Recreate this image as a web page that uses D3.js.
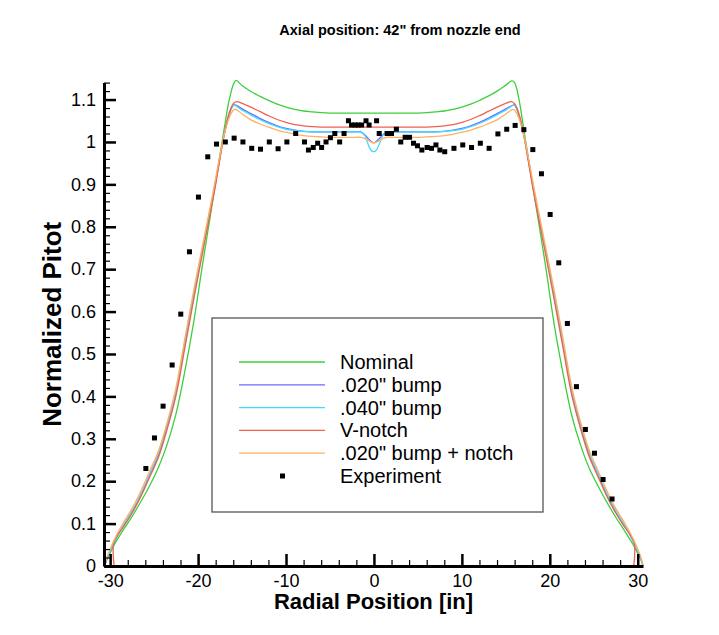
<!DOCTYPE html>
<html>
<head>
<meta charset="utf-8">
<script src="https://cdn.jsdelivr.net/npm/d3@7"></script>
<style>
body { margin: 0; background: #fff; }
svg text { font-family: "Liberation Sans", Arial, sans-serif; fill: #000; }
.tick text { font-size: 18px; }
.major .domain { stroke: #000; stroke-width: 3; }
.major .tick line { stroke: #000; stroke-width: 2.5; }
.minor .domain { display: none; }
.minor .tick line { stroke: #000; stroke-width: 1.2; }
.curve { fill: none; stroke-width: 1.3; }
</style>
</head>
<body>
<div id="chart"></div>
<script>
const width = 719, height = 635;
const plot = { left: 104, right: 643, top: 82.6, bottom: 566 };

// ticks
const xTicks = [-30, -20, -10, 0, 10, 20, 30];
const xTickLabels = ['-30', '-20', '-10', '0', '10', '20', '30'];
const yTicks = [0, 0.1, 0.2, 0.3, 0.4, 0.5, 0.6, 0.7, 0.8, 0.9, 1, 1.1];
const yTickLabels = ['0', '0.1', '0.2', '0.3', '0.4', '0.5', '0.6', '0.7', '0.8', '0.9', '1', '1.1'];

const seriesNames = ['Nominal', '.020" bump', '.040" bump', 'V-notch', '.020" bump + notch'];
const seriesColors = ['#3ccf3c', '#6a6aff', '#40dcff', '#f06050', '#ffb060'];

// radial stations shared by the computed profiles
const profileX = [-30.65, -30.3, -29.9, -29.4, -28.5, -27.5, -26.5, -25.5, -24.5, -23.5,
  -22.5, -21.5, -20.5, -19.5, -18.5, -18.0, -17.5, -17.0, -16.5, -16.0,
  -15.7, -15.0, -14, -13, -12, -11, -10, -9, -8, -7,
  -6, -5, -4, -3, -2, -1.5, -1, -0.75, -0.5, -0.25,
  0,
  0.25, 0.5, 0.75, 1, 1.5, 2, 3, 4, 5, 6,
  7, 8, 9, 10, 11, 12, 13, 14, 15, 15.7,
  16.0, 16.5, 17.0, 17.5, 18.0, 18.5, 19.5, 20.5, 21.5, 22.5,
  23.5, 24.5, 25.5, 26.5, 27.5, 28.5, 29.4, 29.9, 30.3, 30.6];

const nominalY = [0, 0.018, 0.035, 0.055, 0.085, 0.117, 0.152, 0.19, 0.233, 0.288,
  0.36, 0.46, 0.575, 0.71, 0.84, 0.905, 0.97, 1.035, 1.095, 1.135,
  1.145, 1.133, 1.119, 1.108, 1.098, 1.089, 1.082, 1.077, 1.073, 1.071,
  1.069, 1.068, 1.068, 1.068, 1.068, 1.068, 1.068, 1.068, 1.068, 1.068,
  1.068,
  1.068, 1.068, 1.068, 1.068, 1.068, 1.068, 1.068, 1.068, 1.068, 1.069,
  1.071, 1.073, 1.077, 1.082, 1.089, 1.098, 1.108, 1.12, 1.134, 1.144,
  1.14, 1.10, 1.035, 0.97, 0.905, 0.84, 0.71, 0.57, 0.455, 0.355,
  0.285, 0.23, 0.188, 0.15, 0.115, 0.083, 0.053, 0.034, 0.018, 0];

const bump020Y = [0, 0.02, 0.04, 0.062, 0.095, 0.128, 0.168, 0.215, 0.262, 0.33,
  0.41, 0.525, 0.637, 0.745, 0.85, 0.905, 0.965, 1.02, 1.062, 1.086,
  1.087, 1.078, 1.067, 1.056, 1.046, 1.038, 1.032, 1.028, 1.025, 1.024,
  1.024, 1.024, 1.024, 1.024, 1.024, 1.024, 1.016, 1.01, 1.005, 1.0,
  0.998,
  1.001, 1.006, 1.011, 1.017, 1.024, 1.024, 1.024, 1.024, 1.024, 1.024,
  1.024, 1.025, 1.028, 1.032, 1.038, 1.046, 1.056, 1.067, 1.078, 1.086,
  1.087, 1.062, 1.02, 0.965, 0.905, 0.85, 0.745, 0.637, 0.525, 0.41,
  0.33, 0.262, 0.215, 0.168, 0.128, 0.095, 0.062, 0.04, 0.02, 0];

const bump040Y = [0, 0.021, 0.041, 0.063, 0.096, 0.13, 0.17, 0.217, 0.265, 0.333,
  0.413, 0.528, 0.64, 0.748, 0.853, 0.908, 0.967, 1.022, 1.063, 1.087,
  1.085, 1.075, 1.064, 1.053, 1.044, 1.036, 1.03, 1.027, 1.025, 1.024,
  1.024, 1.024, 1.024, 1.024, 1.024, 1.023, 1.014, 1.0, 0.986, 0.979,
  0.977,
  0.98, 0.99, 1.003, 1.015, 1.023, 1.024, 1.024, 1.024, 1.024, 1.024,
  1.024, 1.025, 1.027, 1.03, 1.036, 1.044, 1.053, 1.064, 1.075, 1.085,
  1.087, 1.063, 1.022, 0.967, 0.908, 0.853, 0.748, 0.64, 0.528, 0.413,
  0.333, 0.265, 0.217, 0.17, 0.13, 0.096, 0.063, 0.041, 0.021, 0];

const bumpNotchY = [0, 0.024, 0.045, 0.068, 0.102, 0.136, 0.177, 0.224, 0.272, 0.34,
  0.422, 0.537, 0.65, 0.755, 0.86, 0.915, 0.97, 1.02, 1.055, 1.075,
  1.077, 1.066, 1.052, 1.043, 1.035, 1.028, 1.023, 1.018, 1.015, 1.013,
  1.012, 1.011, 1.011, 1.011, 1.011, 1.011, 1.008, 1.005, 1.002, 0.999,
  0.998,
  0.999, 1.002, 1.005, 1.008, 1.011, 1.011, 1.011, 1.011, 1.011, 1.012,
  1.013, 1.015, 1.018, 1.023, 1.028, 1.035, 1.043, 1.052, 1.066, 1.076,
  1.075, 1.055, 1.02, 0.97, 0.915, 0.86, 0.755, 0.65, 0.537, 0.422,
  0.34, 0.272, 0.224, 0.177, 0.136, 0.102, 0.068, 0.045, 0.024, 0];

// V-notch profile stops short of the wall
const vNotchX = [-29.55, -29.55, -28.5, -27.5, -26.5, -25.5, -24.5, -23.5, -22.5, -21.5,
  -20.5, -19.5, -18.5, -18.0, -17.5, -17.0, -16.5, -16.0, -15.6, -15.0,
  -14, -13, -12, -11, -10, -9, -8, -7, -6, -4, -2, 0, 2, 4, 6,
  7, 8, 9, 10, 11, 12, 13, 14, 15, 15.6, 16.0, 16.5, 17.0, 17.5, 18.0,
  18.5, 19.5, 20.5, 21.5, 22.5, 23.5, 24.5, 25.5, 26.5, 27.5, 28.5, 29.55, 29.55];
const vNotchY = [0, 0.058, 0.092, 0.125, 0.164, 0.21, 0.257, 0.324, 0.403, 0.515,
  0.628, 0.738, 0.845, 0.9, 0.962, 1.02, 1.066, 1.09, 1.095, 1.091,
  1.082, 1.072, 1.062, 1.053, 1.046, 1.041, 1.038, 1.036, 1.035, 1.035, 1.035, 1.035, 1.035, 1.035, 1.035,
  1.036, 1.038, 1.041, 1.046, 1.053, 1.062, 1.072, 1.082, 1.091, 1.095, 1.09, 1.066, 1.02, 0.962, 0.9,
  0.845, 0.738, 0.628, 0.515, 0.403, 0.324, 0.257, 0.21, 0.164, 0.125, 0.092, 0.058, 0];

// measured pitot rake
const expX = [-25.94, -24.96, -23.98, -22.95, -21.97, -20.98, -19.96, -18.9, -17.9, -16.9,
  -15.9, -14.9, -13.9, -12.9, -11.9, -10.9, -9.9, -8.9, -7.9, -7.45,
  -6.9, -6.4, -5.95, -5.45, -4.95, -4.45, -3.9, -3.4, -2.9, -2.55,
  -2.15, -1.8, -1.4, -0.9, -0.55, 0.3, 0.6, 1.5, 2.0, 2.55,
  3.05, 3.55, 4.05, 4.5, 4.95, 5.45, 6.05, 6.55, 7.05, 7.5,
  8.05, 9.1, 10.1, 11.1, 12.1, 13.1, 14.1, 15.1, 16.06, 17.05,
  18.07, 19.05, 20.04, 21.02, 22.0, 23.03, 24.05, 25.08, 26.06, 27.08];
const expY = [0.23, 0.302, 0.377, 0.474, 0.594, 0.741, 0.87, 0.965, 0.995, 1.0,
  1.009, 1.0, 0.985, 0.983, 1.0, 0.984, 1.0, 1.02, 1.0, 0.981,
  0.987, 0.997, 0.987, 1.0, 1.01, 1.02, 1.0, 1.02, 1.05, 1.04,
  1.04, 1.04, 1.04, 1.05, 1.04, 1.05, 1.02, 1.02, 1.02, 1.03,
  1.0, 1.011, 1.011, 0.997, 0.991, 0.981, 0.987, 0.985, 0.993, 0.981,
  0.977, 0.985, 0.993, 0.987, 0.997, 0.985, 1.019, 1.03, 1.039, 1.029,
  0.982, 0.925, 0.829, 0.715, 0.572, 0.423, 0.322, 0.266, 0.204, 0.158];

const xScale = d3.scaleLinear().domain([-30.7, 30.6]).range([plot.left, plot.right]);
const yScale = d3.scaleLinear().domain([0, 1.14]).range([plot.bottom, plot.top]);

const xMinor = d3.range(-30, 31, 2).filter(v => v % 10 !== 0);
const yMinor = d3.range(1, 58).map(v => v / 50).filter(v => Math.round(v * 50) % 5 !== 0);

function drawAxes(svg) {
    svg.append('g')
        .attr('class', 'minor')
        .attr('transform', 'translate(0,' + plot.bottom + ')')
        .call(d3.axisBottom(xScale).tickValues(xMinor).tickSize(-6).tickFormat(''));
    svg.append('g')
        .attr('class', 'minor')
        .attr('transform', 'translate(' + plot.left + ',0)')
        .call(d3.axisLeft(yScale).tickValues(yMinor).tickSize(-6).tickFormat(''));

    svg.append('g')
        .attr('class', 'major')
        .attr('transform', 'translate(0,' + plot.bottom + ')')
        .call(d3.axisBottom(xScale).tickValues(xTicks)
            .tickFormat((d, i) => xTickLabels[i])
            .tickSizeInner(-12).tickSizeOuter(0).tickPadding(8));
    svg.append('g')
        .attr('class', 'major')
        .attr('transform', 'translate(' + plot.left + ',0)')
        .call(d3.axisLeft(yScale).tickValues(yTicks)
            .tickFormat((d, i) => yTickLabels[i])
            .tickSizeInner(-12).tickSizeOuter(0).tickPadding(8));
}

function drawCurves(svg) {
    const line = d3.line()
        .x(d => xScale(d[0]))
        .y(d => yScale(d[1]))
        .curve(d3.curveCatmullRom.alpha(0.5));
    const profiles = [
        [profileX, nominalY],
        [profileX, bump020Y],
        [profileX, bump040Y],
        [vNotchX, vNotchY],
        [profileX, bumpNotchY]
    ];
    profiles.forEach(function(p, k) {
        svg.append('path')
            .attr('class', 'curve')
            .attr('stroke', seriesColors[k])
            .attr('d', line(d3.zip(p[0], p[1])));
    });

    svg.append('g').selectAll('rect')
        .data(d3.zip(expX, expY))
        .enter()
        .append('rect')
        .attr('x', d => xScale(d[0]) - 2.5)
        .attr('y', d => yScale(d[1]) - 2.5)
        .attr('width', 5)
        .attr('height', 5)
        .attr('fill', '#000');
}

function drawLegend(svg) {
    const box = { x: 212, y: 318, w: 331, h: 194 };
    svg.append('rect')
        .attr('x', box.x).attr('y', box.y)
        .attr('width', box.w).attr('height', box.h)
        .attr('fill', '#fff').attr('stroke', '#555').attr('stroke-width', 1.3);
    const rowY = k => 362 + k * 22.8;
    seriesNames.forEach(function(name, k) {
        svg.append('line')
            .attr('x1', 239).attr('x2', 325)
            .attr('y1', rowY(k)).attr('y2', rowY(k))
            .attr('stroke', seriesColors[k]).attr('stroke-width', 1.3);
        svg.append('text')
            .attr('x', 340).attr('y', rowY(k) + 7)
            .style('font-size', '20px')
            .text(name);
    });
    const k = seriesNames.length;
    svg.append('rect')
        .attr('x', 280).attr('y', rowY(k) - 2.5)
        .attr('width', 5).attr('height', 5).attr('fill', '#000');
    svg.append('text')
        .attr('x', 340).attr('y', rowY(k) + 7)
        .style('font-size', '20px')
        .text('Experiment');
}

function drawChart() {
    const svg = d3.select('#chart')
        .append('svg')
        .attr('width', width)
        .attr('height', height);

    drawCurves(svg);
    drawAxes(svg);
    drawLegend(svg);

    svg.append('text')
        .attr('x', 400).attr('y', 35)
        .attr('text-anchor', 'middle')
        .style('font-size', '14.5px').style('font-weight', 'bold')
        .text('Axial position: 42" from nozzle end');
    svg.append('text')
        .attr('x', (plot.left + plot.right) / 2).attr('y', 609)
        .attr('text-anchor', 'middle')
        .style('font-size', '22px').style('font-weight', 'bold')
        .text('Radial Position [in]');
    svg.append('text')
        .attr('transform', 'translate(52,' + (plot.top + plot.bottom) / 2 + ') rotate(-90)')
        .attr('text-anchor', 'middle')
        .attr('dy', '0.35em')
        .style('font-size', '26px').style('font-weight', 'bold')
        .text('Normalized Pitot');
}

drawChart();
</script>
</body>
</html>
